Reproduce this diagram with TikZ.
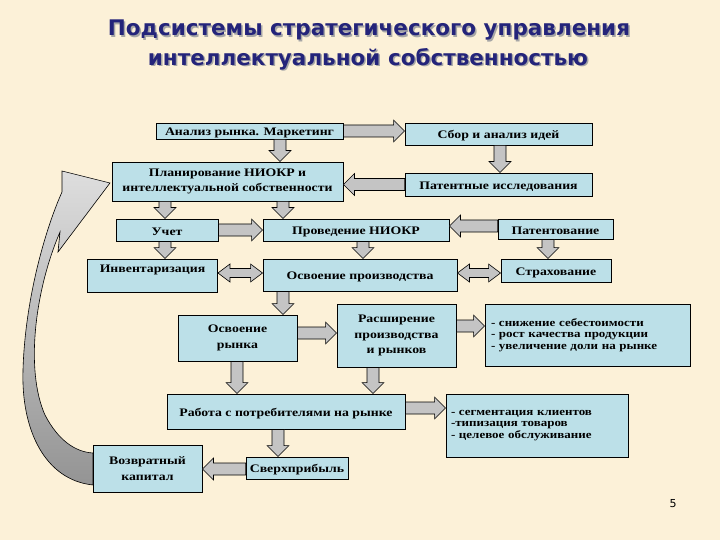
\documentclass[tikz,border=0pt]{standalone}
\usepackage{fontspec}
\setmainfont{Liberation Serif}
\newfontfamily\titlefont{DejaVu Sans}
\newfontfamily\boxfont{Liberation Serif}[FakeStretch=1.2]
\newfontfamily\listfont{Liberation Serif}[FakeStretch=1.18]
\newfontfamily\numfont{DejaVu Sans}
\usetikzlibrary{calc}
\definecolor{bg}{HTML}{FCF1D8}
\definecolor{boxc}{HTML}{BCE0E8}
\definecolor{titlec}{HTML}{24247A}
\definecolor{arrc}{HTML}{C4C4C4}
\newcommand\shadowed[1]{\rlap{\kern1.5pt\raisebox{-1.5pt}{\color{black!35}#1}}#1}
\newcommand\barrow[2]{%
  \coordinate (bA) at #1; \coordinate (bB) at #2;
  \coordinate (bH) at ($(bB)!11pt!(bA)$);
  \draw[arr] ($(bA)!6pt!90:(bB)$) -- ($(bH)!6pt!90:(bB)$) -- ($(bH)!11pt!90:(bB)$) -- (bB)
    -- ($(bH)!11pt!-90:(bB)$) -- ($(bH)!6pt!-90:(bB)$) -- ($(bA)!6pt!-90:(bB)$) -- cycle;}
\newcommand\dbarrow[2]{%
  \coordinate (bA) at #1; \coordinate (bB) at #2;
  \coordinate (bH) at ($(bB)!12pt!(bA)$); \coordinate (bG) at ($(bA)!12pt!(bB)$);
  \draw[arr] (bA) -- ($(bG)!9pt!90:(bB)$) -- ($(bG)!4.5pt!90:(bB)$) -- ($(bH)!4.5pt!90:(bB)$)
    -- ($(bH)!9pt!90:(bB)$) -- (bB) -- ($(bH)!9pt!-90:(bB)$) -- ($(bH)!4.5pt!-90:(bB)$)
    -- ($(bG)!4.5pt!-90:(bB)$) -- ($(bG)!9pt!-90:(bB)$) -- cycle;}
\tikzset{
  bx/.style={draw=black, line width=0.9pt, fill=boxc, inner sep=0pt, align=center,
    font=\boxfont\bfseries\fontsize{11.5}{15.5}\selectfont,
    execute at begin node={\rule{0pt}{11.5pt}}},
  blist/.style={draw=black, line width=0.9pt, fill=boxc, inner sep=0pt, align=left,
    font=\listfont\bfseries\fontsize{11}{11.5}\selectfont},
  arr/.style={draw=black, line width=0.6pt, fill=arrc, line join=miter},
  ttl/.style={font=\titlefont\bfseries\fontsize{21.5}{25}\selectfont, text=titlec, inner sep=0pt},
}
\begin{document}
\begin{tikzpicture}[x=1pt,y=-1pt]
\fill[bg] (0,0) rectangle (720,540);
\useasboundingbox (0,0) rectangle (720,540);

% title
\node[ttl] (t1) at (369,31) {\shadowed{Подсистемы стратегического управления}};
\node[ttl] (t2) at (368,60) {\shadowed{интеллектуальной собственностью}};

% big curved return arrow
\draw[black, line width=0.6pt, top color=black!13, bottom color=black!42]
  (93,485) .. controls (45,480) and (21,430) .. (23,370)
  .. controls (25,300) and (45,230) .. (62,192)
  -- (62,171) -- (110,183) -- (58,252) -- (60,232)
  .. controls (35,290) and (25,370) .. (45,415)
  .. controls (58,440) and (75,452) .. (93,453) -- cycle;

% boxes
\node[bx, minimum width=187, minimum height=16] (anal) at (249.5,131) {Анализ рынка. Маркетинг};
\node[bx, minimum width=187, minimum height=22] (sbor) at (498.5,134) {Сбор и анализ идей};
\node[bx, minimum width=231, minimum height=39] (plan) at (227.5,181.5) {Планирование НИОКР и\\интеллектуальной собственности};
\node[bx, minimum width=187, minimum height=23] (pat) at (498.5,184.5) {Патентные исследования};
\node[bx, minimum width=102, minimum height=22] (uchet) at (167,230) {Учет};
\node[bx, minimum width=186, minimum height=22] (prov) at (356,230) {Проведение НИОКР};
\node[bx, minimum width=115, minimum height=20] (patent) at (555.5,229) {Патентование};
\node[bx, minimum width=130, minimum height=33] (inv) at (152.5,275.5) {Инвентаризация\\[-6pt]\strut};
\node[bx, minimum width=194, minimum height=32] (osvp) at (360,275) {Освоение производства};
\node[bx, minimum width=110, minimum height=23] (strah) at (556,270.5) {Страхование};
\node[bx, minimum width=119, minimum height=46] (osvr) at (237.5,338) {Освоение\\рынка};
\node[bx, minimum width=119, minimum height=63] (rassh) at (396.5,335.5) {Расширение\\производства\\и рынков};
\node[blist, minimum width=205, minimum height=62, text width=193] (list1) at (587.5,335) {- снижение себестоимости\\- рост качества продукции\\- увеличение доли на рынке};
\node[bx, minimum width=238, minimum height=35] (rabota) at (286,411.5) {Работа с потребителями на рынке};
\node[blist, minimum width=182, minimum height=63, text width=172] (list2) at (537,425.5) {- сегментация клиентов\\-типизация товаров\\- целевое обслуживание};
\node[bx, minimum width=109, minimum height=47] (vozvr) at (147.5,468.5) {Возвратный\\капитал};
\node[bx, minimum width=102, minimum height=22] (sverh) at (297,468) {Сверхприбыль};

\node[font=\numfont\fontsize{11}{13}\selectfont, inner sep=0pt] (num) at (673,504) {5};

% column / row helpers
\coordinate (x165) at (165,0);
\coordinate (x280) at (280,0);
\coordinate (x283) at (283,0);
\coordinate (x500) at (500,0);
\coordinate (x363) at (363,0);
\coordinate (x548) at (548,0);
\coordinate (x237) at (237,0);
\coordinate (x373) at (373,0);
\coordinate (x278) at (278,0);
\coordinate (y131) at (0,131);
\coordinate (y184) at (0,184.5);
\coordinate (y226) at (0,226);
\coordinate (y273) at (0,273);
\coordinate (y333) at (0,333);
\coordinate (y326) at (0,326);
\coordinate (y408) at (0,408);
\coordinate (y469) at (0,469);

% arrows
\barrow{(anal.east |- y131)}{(sbor.west |- y131)}
\barrow{(anal.south -| x280)}{(plan.north -| x280)}
\barrow{(sbor.south -| x500)}{(pat.north -| x500)}
\barrow{(pat.west |- y184)}{(plan.east |- y184)}
\barrow{(plan.south -| x165)}{(uchet.north -| x165)}
\barrow{(plan.south -| x283)}{(prov.north -| x283)}
\barrow{(uchet.east)}{(prov.west)}
\barrow{(uchet.south -| x165)}{(inv.north -| x165)}
\barrow{(patent.west |- y226)}{(prov.east |- y226)}
\barrow{(prov.south -| x363)}{(osvp.north -| x363)}
\barrow{(patent.south -| x548)}{(strah.north -| x548)}
\dbarrow{(inv.east |- y273)}{(osvp.west |- y273)}
\dbarrow{(osvp.east |- y273)}{(strah.west |- y273)}
\barrow{(osvp.south -| x283)}{(osvr.north -| x283)}
\barrow{(osvr.east |- y333)}{(rassh.west |- y333)}
\barrow{(rassh.east |- y326)}{(list1.west |- y326)}
\barrow{(osvr.south -| x237)}{(rabota.north -| x237)}
\barrow{(rassh.south -| x373)}{(rabota.north -| x373)}
\barrow{(rabota.east |- y408)}{(list2.west |- y408)}
\barrow{(rabota.south -| x278)}{(sverh.north -| x278)}
\barrow{(sverh.west |- y469)}{(vozvr.east |- y469)}
\end{tikzpicture}
\end{document}
